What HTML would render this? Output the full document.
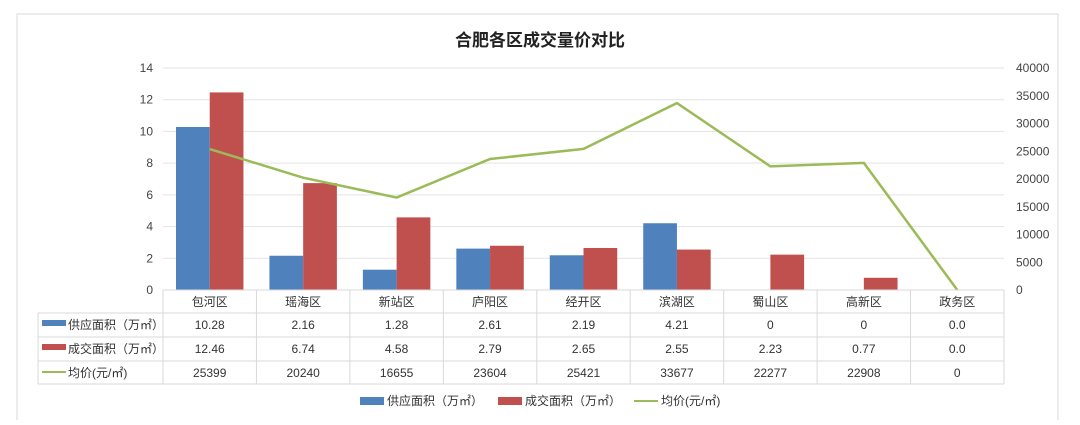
<!DOCTYPE html>
<html><head><meta charset="utf-8"><style>
body{margin:0;width:1080px;height:420px;background:#fff;overflow:hidden;font-family:"Liberation Sans","Noto Sans CJK SC",sans-serif}
</style></head><body>
<svg id="c" width="1080" height="420" xmlns="http://www.w3.org/2000/svg" font-family="Liberation Sans, Noto Sans CJK SC, sans-serif">
<rect x="17" y="14" width="1041" height="420" fill="#fff" stroke="#d9d9d9"/>
<text x="540" y="46" text-anchor="middle" font-size="17" font-weight="bold" fill="#222">合肥各区成交量价对比</text>
<g id="g"></g>
</svg>
<script>
const categories=["包河区","瑶海区","新站区","庐阳区","经开区","滨湖区","蜀山区","高新区","政务区"];
const supply=[10.28,2.16,1.28,2.61,2.19,4.21,0,0,0];
const deal=[12.46,6.74,4.58,2.79,2.65,2.55,2.23,0.77,0];
const price=[25399,20240,16655,23604,25421,33677,22277,22908,0];
const supplyLabels=["10.28","2.16","1.28","2.61","2.19","4.21","0","0","0.0"];
const dealLabels=["12.46","6.74","4.58","2.79","2.65","2.55","2.23","0.77","0.0"];
const priceLabels=["25399","20240","16655","23604","25421","33677","22277","22908","0"];
const leftTicks=[0,2,4,6,8,10,12,14];
const rightTicks=[0,5000,10000,15000,20000,25000,30000,35000,40000];
const NS="http://www.w3.org/2000/svg",g=document.getElementById('g');
const X0=163,X1=1004,Y0=290,Y1=68,bw=(X1-X0)/categories.length;
const yL=v=>Y0-(v/14)*(Y0-Y1), yR=v=>Y0-(v/40000)*(Y0-Y1), xc=i=>X0+bw*(i+0.5);
function el(t,a,txt){const e=document.createElementNS(NS,t);for(const k in a)e.setAttribute(k,a[k]);if(txt!==undefined)e.textContent=txt;g.appendChild(e);return e;}
leftTicks.forEach(v=>{
 const l=el('line',{x1:X0,x2:X1,y1:yL(v),y2:yL(v),stroke:'#e3e3e3'});
 
 
 const t=el('text',{x:153,y:yL(v)+4,'text-anchor':'end','font-size':12,fill:'#444'},v);
 
 
});
rightTicks.forEach(v=>{
 const t=el('text',{x:1016,y:yR(v)+4,'font-size':12,fill:'#444'},v);
 
 
});
categories.forEach((c,i)=>{
 const x=X0+bw*i+13, w=(bw-26)/2;
 const b=el('rect',{x:x,y:yL(supply[i]),width:w,height:Y0-yL(supply[i]),fill:'#4f81bd'});
 
 
 const r=el('rect',{x:x+w,y:yL(deal[i]),width:w,height:Y0-yL(deal[i]),fill:'#c0504d'});
 
 
});
const pl=el('polyline',{points:price.map((v,i)=>xc(i)+','+yR(v)).join(' '),fill:'none',stroke:'#9bbb59','stroke-width':2.5});


// table
const rows=[313,337,361,384], TX=38;
[Y0,...rows].forEach((y,k)=>{const l=el('line',{x1:k==0?X0:TX,x2:X1,y1:y,y2:y,stroke:'#d9d9d9'});});
el('line',{x1:TX,x2:TX,y1:313,y2:384,stroke:'#d9d9d9'});
for(let i=0;i<=categories.length;i++){const l=el('line',{x1:X0+bw*i,x2:X0+bw*i,y1:Y0,y2:384,stroke:'#d9d9d9'});}
const names=["供应面积（万㎡）","成交面积（万㎡）","均价(元/㎡)"], cols=['#4f81bd','#c0504d','#9bbb59'], vals=[supplyLabels,dealLabels,priceLabels];
categories.forEach((c,i)=>{const t=el('text',{x:xc(i),y:306,'text-anchor':'middle','font-size':12,fill:'#333'},c);});
names.forEach((n,r)=>{
 const yy=rows[r]+16;
 if(r<2)el('rect',{x:42,y:yy-9,width:24,height:6,fill:cols[r]});else el('line',{x1:42,x2:66,y1:yy-5,y2:yy-5,stroke:cols[r],'stroke-width':2});
 const t=el('text',{x:68,y:yy,'font-size':12,fill:'#333'},n);
 
 
 vals[r].forEach((v,i)=>{const d=el('text',{x:xc(i),y:yy,'text-anchor':'middle','font-size':12,fill:'#333'},v);});
});
// legend
const lx=[360,498,634];
names.forEach((n,k)=>{
 if(k<2)el('rect',{x:lx[k],y:397,width:24,height:8,fill:cols[k]});else el('line',{x1:lx[k],x2:lx[k]+24,y1:401,y2:401,stroke:cols[k],'stroke-width':2});
 const t=el('text',{x:lx[k]+27,y:405,'font-size':12,fill:'#333'},n);
 
 
});
</script>
</body></html>
